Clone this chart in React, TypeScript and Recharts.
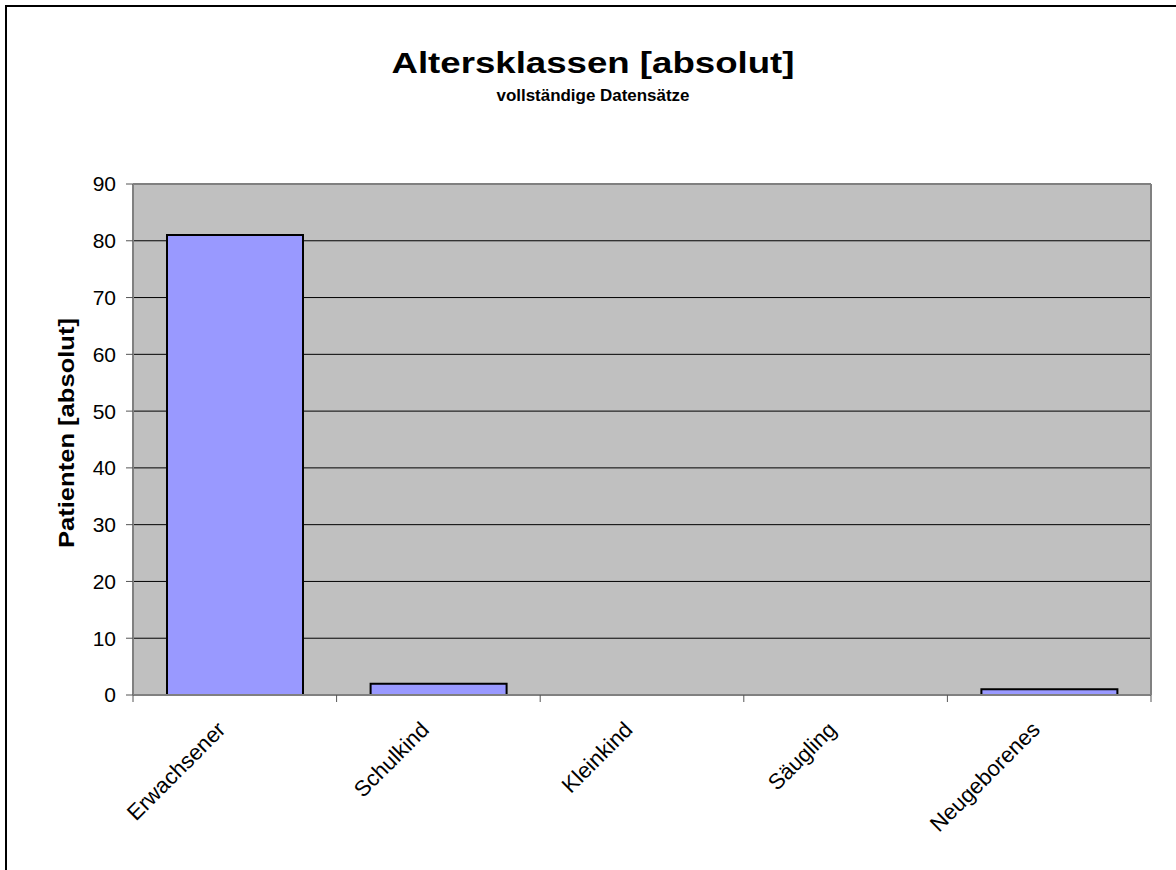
import { BarChart, Bar, XAxis, YAxis, CartesianGrid, ReferenceLine } from 'recharts'

const categories = ['Erwachsener', 'Schulkind', 'Kleinkind', 'Säugling', 'Neugeborenes']
const patients = [81, 2, 0, 0, 1]
const yTicks = [0, 10, 20, 30, 40, 50, 60, 70, 80, 90]

const data = categories.map((name, i) => ({ name, value: patients[i] }))

const W = 1176
const H = 870
const margin = { top: 184, right: 24, bottom: 0, left: 73 }
const Y_AXIS_W = 60
const X_AXIS_H = 175
const PLOT_W = W - margin.left - Y_AXIS_W - margin.right - 1
const BAND = PLOT_W / categories.length
const FONT = '"Liberation Sans", Arial, sans-serif'

// label anchored at the end of the text, below the category centre
function CategoryTick(props: any) {
  const { x, y, payload, index } = props
  const last = index === categories.length - 1
  const ax = x - 8
  const ay = y + 36
  return (
    <g>
      <line x1={x - BAND / 2} x2={x - BAND / 2} y1={y} y2={y + 7} stroke="#555" strokeWidth={1} />
      {last && <line x1={x + BAND / 2} x2={x + BAND / 2} y1={y} y2={y + 7} stroke="#555" strokeWidth={1} />}
      <text
        x={ax}
        y={ay}
        textAnchor="end"
        transform={`rotate(-45, ${ax}, ${ay})`}
        fontSize={22}
        fontFamily={FONT}
        fill="#000"
      >
        {payload.value}
      </text>
    </g>
  )
}

export default function App() {
  return (
    <div style={{ position: 'absolute', left: 0, top: 0, width: W, height: H, overflow: 'hidden', background: '#fff' }}>
      <div
        style={{
          position: 'absolute',
          left: 5,
          top: 5,
          width: 1300,
          height: 1000,
          border: '2px solid #000',
        }}
      />
      <div style={{ position: 'absolute', left: 0, top: 0 }}>
        <BarChart width={W} height={H} data={data} margin={margin} barCategoryGap="16.7%">
          <CartesianGrid vertical={false} stroke="#000" fill="#c0c0c0" fillOpacity={1} />
          <XAxis
            dataKey="name"
            interval={0}
            tickLine={false}
            tickSize={0}
            tickMargin={0}
            axisLine={{ stroke: '#808080', strokeWidth: 2 }}
            tick={<CategoryTick />}
            height={X_AXIS_H}
          />
          <YAxis
            width={Y_AXIS_W}
            domain={[0, 90]}
            ticks={yTicks}
            interval={0}
            tickSize={7}
            tickMargin={10}
            tickLine={{ stroke: '#555' }}
            axisLine={{ stroke: '#808080', strokeWidth: 2 }}
            tick={{ fill: '#000', fontSize: 21, fontFamily: FONT }}
          />
          <YAxis
            yAxisId="right"
            orientation="right"
            width={1}
            domain={[0, 90]}
            tick={false}
            tickLine={false}
            axisLine={{ stroke: '#808080', strokeWidth: 2 }}
          />
          <ReferenceLine y={90} stroke="#808080" strokeWidth={2} />
          <Bar dataKey="value" fill="#9999ff" stroke="#000" strokeWidth={2} isAnimationActive={false} />
        </BarChart>
      </div>
      <svg
        width={W}
        height={H}
        style={{ position: 'absolute', left: 0, top: 0, pointerEvents: 'none' }}
        fontFamily={FONT}
      >
        <text x={593} y={73} textAnchor="middle" fontSize={29} fontWeight="bold" textLength={403} lengthAdjust="spacingAndGlyphs">
          Altersklassen [absolut]
        </text>
        <text x={593} y={101} textAnchor="middle" fontSize={16} fontWeight="bold" textLength={193} lengthAdjust="spacingAndGlyphs">
          vollständige Datensätze
        </text>
        <text
          x={74}
          y={433}
          textAnchor="middle"
          fontSize={22}
          fontWeight="bold"
          textLength={230}
          lengthAdjust="spacingAndGlyphs"
          transform="rotate(-90, 74, 433)"
        >
          Patienten [absolut]
        </text>
      </svg>
    </div>
  )
}
